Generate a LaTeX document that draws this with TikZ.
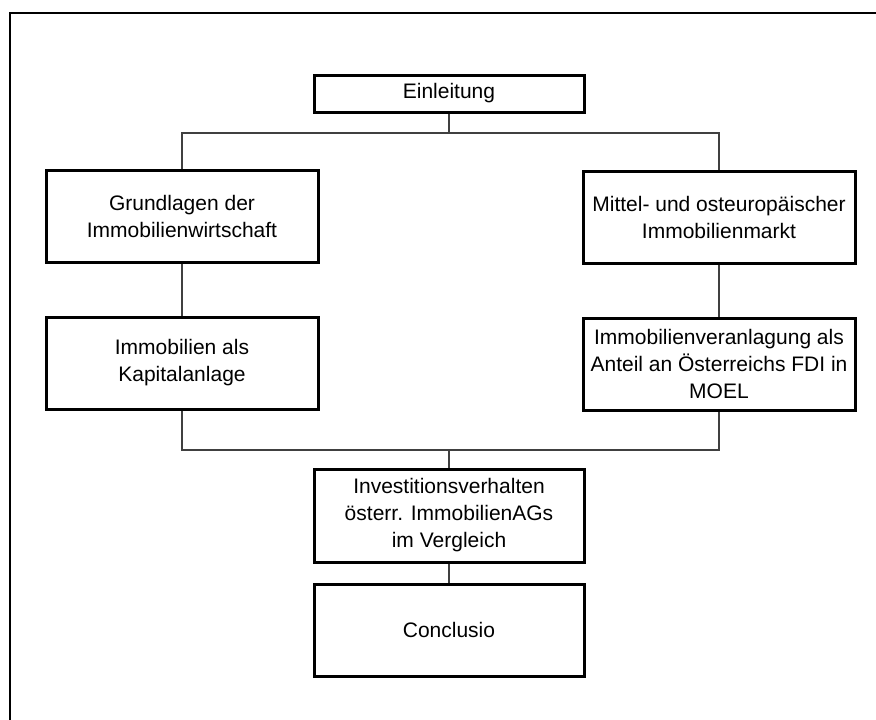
\documentclass[tikz,border=0pt]{standalone}
\usepackage{fontspec}
\setmainfont{Liberation Sans}
\begin{document}
\begin{tikzpicture}[x=1pt,y=-1pt,
  box/.style={draw=black, line width=3pt, fill=white, align=center,
    font=\fontsize{21}{27}\selectfont, inner sep=0pt},
  conn/.style={draw=black!75, line width=1.3pt}]
\useasboundingbox (0,0) rectangle (876,720);
\clip (0,0) rectangle (876,720);
\draw[line width=2pt] (10,730) -- (10,13) -- (890,13);
\node[box, minimum width=270pt, minimum height=37pt] (ein) at (449,93.5) {Einleitung};
\node[box, minimum width=272pt, minimum height=92pt] (grd) at (182,216) {Grundlagen der\\Immobilienwirtschaft};
\node[box, minimum width=272pt, minimum height=92pt] (kap) at (182,363) {Immobilien als\\Kapitalanlage};
\node[box, minimum width=272pt, minimum height=92pt] (mit) at (719,217) {Mittel- und osteuropäischer\\Immobilienmarkt};
\node[box, minimum width=272pt, minimum height=92pt] (fdi) at (719,364) {Immobilienveranlagung als\\Anteil an Österreichs FDI in\\MOEL};
\node[box, minimum width=270pt, minimum height=93pt] (inv) at (449,515.5) {Investitionsverhalten\\österr. ImmobilienAGs\\im Vergleich};
\node[box, minimum width=270pt, minimum height=92pt] (con) at (449,630) {Conclusio};
\coordinate (top) at (449,133);
\coordinate (bot) at (449,450);
\begin{scope}[on background layer/.try]
\end{scope}
\draw[conn] (ein.south) -- (top);
\draw[conn] (grd.north) |- (top) -| (mit.north);
\draw[conn] (grd.south) -- (kap.north);
\draw[conn] (mit.south) -- (fdi.north);
\draw[conn] (kap.south) |- (bot) -| (fdi.south);
\draw[conn] (bot) -- (inv.north);
\draw[conn] (inv.south) -- (con.north);
\end{tikzpicture}
\end{document}
